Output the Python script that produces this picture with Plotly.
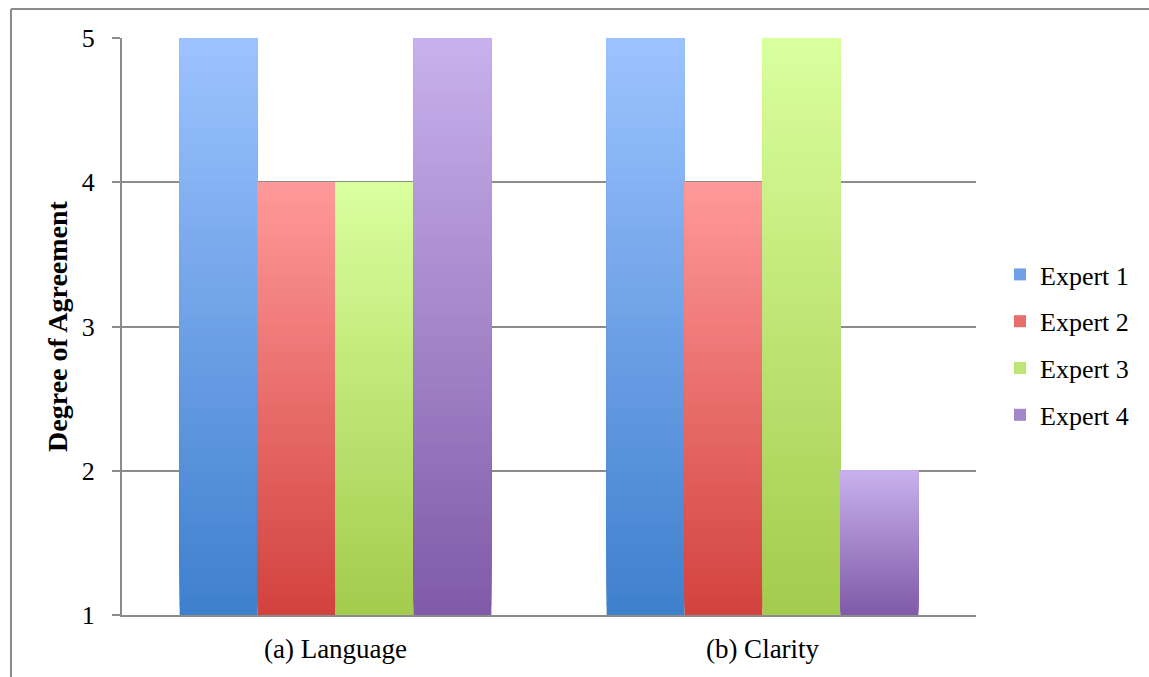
import plotly.graph_objects as go

# Chart data
categories = ["(a) Language", "(b) Clarity"]
experts = ["Expert 1", "Expert 2", "Expert 3", "Expert 4"]
expert1 = [5, 5]
expert2 = [4, 4]
expert3 = [4, 5]
expert4 = [5, 2]
y_ticks = [1, 2, 3, 4, 5]

series = [expert1, expert2, expert3, expert4]

# Gradient colours per expert: (top, bottom)
gradients = [
    ((157, 195, 255), (62, 127, 205)),
    ((255, 153, 153), (210, 66, 62)),
    ((218, 255, 158), (163, 203, 76)),
    ((200, 177, 236), (128, 90, 168)),
]

AXIS_MIN = 1
N_SLICES = 64
FONT = "Liberation Serif"
GRID = "#8c8c8c"


def mix(top, bottom, t):
    """t = 0 at bottom of the bar, 1 at the top."""
    return "rgb({},{},{})".format(*[round(b + (a - b) * t) for a, b in zip(top, bottom)])


fig = go.Figure()

for name, values, (top, bottom) in zip(experts, series, gradients):
    step = [(v - AXIS_MIN) / N_SLICES for v in values]
    # Each layer runs from its own start up to the bar's value; later layers
    # are painted over earlier ones, so the stack reads as a smooth gradient.
    for k in range(N_SLICES):
        t = (k + 0.5) / N_SLICES
        bases = [AXIS_MIN + s * k for s in step]
        fig.add_trace(go.Bar(
            x=categories,
            y=[v - b for v, b in zip(values, bases)],
            base=bases,
            offsetgroup=name,
            legendgroup=name,
            name=name,
            showlegend=False,
            marker=dict(color=mix(top, bottom, t), line=dict(width=0)),
            hoverinfo="skip",
        ))
    # legend entry
    fig.add_trace(go.Bar(
        x=[None],
        y=[None],
        offsetgroup=name,
        legendgroup=name,
        name=name,
        showlegend=True,
        marker=dict(color=mix(top, bottom, 0.5), line=dict(width=0)),
    ))

# Outer frame (left and top edges)
W, H = 1149, 677
L, R, T, B = 122, 976, 38, 615


def px_x(p):
    return (p - L) / (R - L)


def px_y(p):
    return (B - p) / (B - T)


fig.add_shape(type="line", xref="paper", yref="paper",
              x0=px_x(11), x1=px_x(11), y0=px_y(9), y1=px_y(H + 5),
              line=dict(color=GRID, width=2))
fig.add_shape(type="line", xref="paper", yref="paper",
              x0=px_x(11), x1=px_x(W + 5), y0=px_y(9), y1=px_y(9),
              line=dict(color=GRID, width=2))

fig.update_layout(
    width=W,
    height=H,
    margin=dict(l=L, r=W - R, t=T, b=H - B, pad=0),
    paper_bgcolor="white",
    plot_bgcolor="white",
    barmode="group",
    bargap=0.27,
    bargroupgap=0,
    font=dict(family=FONT, size=26, color="black"),
    legend=dict(
        x=px_x(1000), xanchor="left",
        y=px_y(345), yanchor="middle",
        font=dict(family=FONT, size=26, color="black"),
        tracegroupgap=10,
        bgcolor="rgba(0,0,0,0)",
    ),
    xaxis=dict(
        showline=True,
        linecolor=GRID,
        linewidth=2,
        ticks="",
        showgrid=False,
        ticklabelstandoff=9,
        tickfont=dict(family=FONT, size=27),
    ),
    yaxis=dict(
        range=[AXIS_MIN, 5],
        tickvals=y_ticks,
        showgrid=True,
        gridcolor=GRID,
        gridwidth=2,
        showline=True,
        linecolor=GRID,
        linewidth=2,
        ticks="outside",
        ticklen=8,
        tickwidth=2,
        tickcolor=GRID,
        zeroline=False,
        ticklabelstandoff=12,
        tickfont=dict(family=FONT, size=26),
        title=dict(text="<b>Degree of Agreement</b>", standoff=6,
                   font=dict(family=FONT, size=28)),
    ),
)

fig.write_html("out.html")
